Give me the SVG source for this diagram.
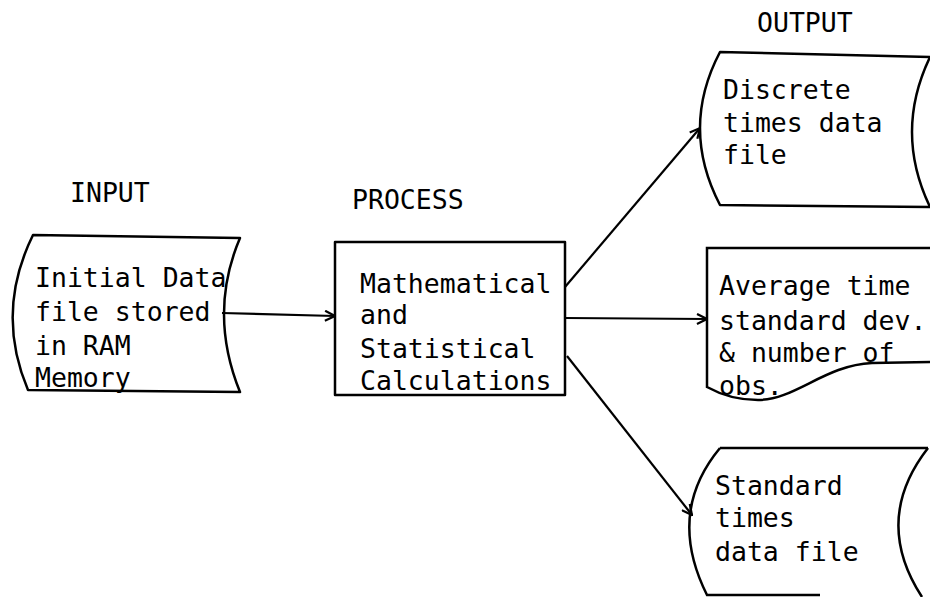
<svg xmlns="http://www.w3.org/2000/svg" width="930" height="597" viewBox="0 0 930 597">
<style>
  .shape { fill: #fff; stroke: #000; stroke-width: 2.5; stroke-linejoin: round; }
  .fill { fill: #fff; stroke: none; }
  .edge { fill: none; stroke: #000; stroke-width: 2.5; }
  .conn { fill: none; stroke: #000; stroke-width: 2.2; marker-end: url(#arr); }
  text { font-family: "DejaVu Sans Mono", "Liberation Mono", monospace; font-size: 26.5px; fill: #000; }
</style>
<defs>
  <marker id="arr" viewBox="0 0 12 12" refX="11" refY="6" markerWidth="12" markerHeight="12" markerUnits="userSpaceOnUse" orient="auto">
    <path d="M1,1 L11,6 L1,11" fill="none" stroke="#000" stroke-width="2.2"/>
  </marker>
</defs>
<rect width="930" height="597" fill="#fff"/>

<g id="labels">
  <text x="70" y="202">INPUT</text>
  <text x="352" y="209">PROCESS</text>
  <text x="757" y="32">OUTPUT</text>
</g>

<g id="input">
  <path class="shape" d="M33,235 L240,238 Q208,313 240,392 L28,390 Q-5,312 33,235 Z"/>
  <text x="35" y="287">Initial Data</text>
  <text x="35" y="321">file stored</text>
  <text x="35" y="355">in RAM</text>
  <text x="35" y="387">Memory</text>
</g>

<g id="process">
  <rect class="shape" x="335" y="242" width="230" height="153"/>
  <text x="360" y="293">Mathematical</text>
  <text x="360" y="324">and</text>
  <text x="360" y="358">Statistical</text>
  <text x="360" y="390">Calculations</text>
</g>

<g id="discrete">
  <path class="shape" d="M720,52 L930,57 Q894,132 930,207 L720,205 Q680,128 720,52 Z"/>
  <text x="723" y="99">Discrete</text>
  <text x="723" y="132">times data</text>
  <text x="723" y="164">file</text>
</g>

<g id="average">
  <path class="fill" d="M707,248 L930,248 L930,362 L872,363 C825,365 795,400 758,400 C732,400 716,392 707,387 Z"/>
  <path class="edge" d="M930,248 L707,248 L707,387 C716,392 732,400 758,400 C795,400 825,365 872,363 L930,362"/>
  <text x="719" y="295">Average time</text>
  <text x="719" y="330">standard dev.</text>
  <text x="719" y="362">&amp; number of</text>
  <text x="719" y="395">obs.</text>
</g>

<g id="standard">
  <path class="fill" d="M720,448 L928,448 Q872,520 922,597 L707,597 Q666,513 720,448 Z"/>
  <path class="edge" d="M720,448 L928,448"/>
  <path class="edge" d="M928,448 Q872,520 922,597"/>
  <path class="edge" d="M720,448 Q666,513 707,595 L820,595"/>
  <text x="715" y="495">Standard</text>
  <text x="715" y="527">times</text>
  <text x="715" y="561">data file</text>
</g>

<g id="connectors">
  <path class="conn" d="M222,313 L335,316"/>
  <path class="conn" d="M565,287 L700,128"/>
  <path class="conn" d="M565,318 L707,319"/>
  <path class="conn" d="M567,356 L692,515"/>
</g>
</svg>
